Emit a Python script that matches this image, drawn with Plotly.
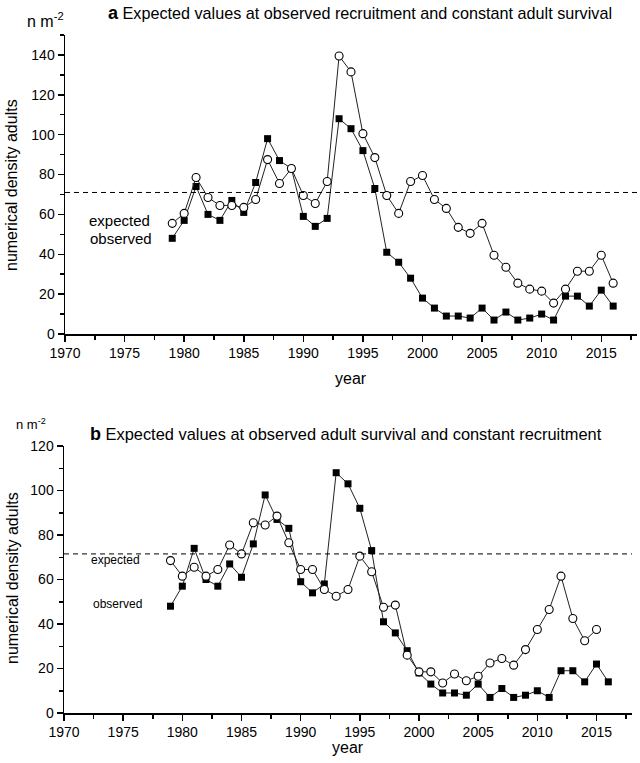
import plotly.graph_objects as go

# ---------------- data ----------------
years_obs = list(range(1979, 2017))
observed = [48, 57, 74, 60, 57, 67, 61, 76, 98, 87,
            83, 59, 54, 58, 108, 103, 92, 73, 41, 36,
            28, 18, 13, 9, 9, 8, 13, 7, 11, 7,
            8, 10, 7, 19, 19, 14, 22, 14]

years_exp_a = list(range(1979, 2017))
expected_a = [55.5, 60.5, 78.5, 68.5, 64.5, 64.5, 63.5, 67.5, 87.5, 75.5,
              83, 69.5, 65.5, 76.5, 139.5, 131.5, 100.5, 88.5, 69.5, 60.5,
              76.5, 79.5, 67.5, 63, 53.5, 50.5, 55.5, 39.5, 33.5, 25.5,
              22.5, 21.5, 15.5, 22.5, 31.5, 31.5, 39.5, 25.5]

years_exp_b = list(range(1979, 2016))
expected_b = [68.5, 61.5, 65.5, 61.5, 64.5, 75.5, 71.5, 85.5, 84.5, 88.5,
              76.5, 64.5, 64.5, 55.5, 52.5, 55.5, 70.5, 63.5, 47.5, 48.5,
              26, 18.5, 18.5, 13.5, 17.5, 14.5, 16.5, 22.5, 24.5, 21.5,
              28.5, 37.5, 46.5, 61.5, 42.5, 32.5, 37.5]

reference_a = 71
reference_b = 71.5

title_a = "Expected values at observed recruitment and constant adult survival"
title_b = "Expected values at observed adult survival and constant recruitment"

FONT = "Liberation Sans, Arial, sans-serif"
W, H = 640, 763


def px(x):
    return x / W


def py(y):
    return 1 - y / H


fig = go.Figure()

line_style = dict(color="#222222", width=1)
sq = dict(symbol="square", size=7, color="black", line=dict(width=0))
circ = dict(symbol="circle", size=8, color="white", line=dict(color="black", width=1.1))

# panel a
fig.add_trace(go.Scatter(x=years_obs, y=observed, mode="lines+markers",
                         line=line_style, marker=sq, xaxis="x", yaxis="y"))
fig.add_trace(go.Scatter(x=years_exp_a, y=expected_a, mode="lines+markers",
                         line=line_style, marker=circ, xaxis="x", yaxis="y"))
# panel b
fig.add_trace(go.Scatter(x=years_obs, y=observed, mode="lines+markers",
                         line=line_style, marker=sq, xaxis="x2", yaxis="y2"))
fig.add_trace(go.Scatter(x=years_exp_b, y=expected_b, mode="lines+markers",
                         line=line_style, marker=circ, xaxis="x2", yaxis="y2"))

axis_common = dict(showline=True, linecolor="black", linewidth=1.5,
                   ticks="outside", ticklen=6, tickwidth=1.5, tickcolor="black",
                   showgrid=False, zeroline=False, automargin=False,
                   tickfont=dict(family=FONT, size=14, color="black"))

xcommon = dict(axis_common, range=[1970, 2018], tick0=1970, dtick=5,
               minor=dict(ticks="outside", ticklen=4, tickwidth=1.5,
                          tickcolor="black", dtick=2.5, tick0=1970, showgrid=False))

fig.update_layout(
    template="none",
    width=W, height=H, autosize=False,
    margin=dict(l=0, r=0, t=0, b=0, pad=0, autoexpand=False),
    paper_bgcolor="white", plot_bgcolor="white",
    font=dict(family=FONT, color="black"),
    showlegend=False,
    xaxis=dict(xcommon, domain=[px(65), px(637)], anchor="y"),
    yaxis=dict(axis_common, domain=[py(334), py(35)], anchor="x",
               range=[0, 150], dtick=20, tick0=0,
               minor=dict(ticks="outside", ticklen=4, tickwidth=1.5,
                          tickcolor="black", dtick=10, tick0=0, showgrid=False)),
    xaxis2=dict(xcommon, domain=[px(64), px(632)], anchor="y2"),
    yaxis2=dict(axis_common, domain=[py(713), py(446)], anchor="x2",
                range=[0, 120], dtick=20, tick0=0,
                minor=dict(ticks="outside", ticklen=4, tickwidth=1.5,
                           tickcolor="black", dtick=10, tick0=0, showgrid=False)),
)

# dashed reference lines
fig.add_shape(type="line", xref="x domain", yref="y", x0=0, x1=1,
              y0=reference_a, y1=reference_a,
              line=dict(color="black", width=1, dash="5px,4px"))
fig.add_shape(type="line", xref="x2 domain", yref="y2", x0=0, x1=1,
              y0=reference_b, y1=reference_b,
              line=dict(color="black", width=1, dash="5px,4px"))

ann = []


def text(x, y, s, size=14, xanchor="center", yanchor="middle", angle=0):
    ann.append(dict(x=px(x), y=py(y), xref="paper", yref="paper", text=s,
                    showarrow=False, xanchor=xanchor, yanchor=yanchor,
                    textangle=angle, borderpad=0,
                    font=dict(family=FONT, size=size, color="black")))


# titles
text(360, 13, "<b style='font-size:18px'>a</b> " + title_a, size=16.2)
text(346, 434, "<b style='font-size:18px'>b</b> " + title_b, size=16.4)
# units
text(26, 20, "n m<sup>-2</sup>", size=16, xanchor="left")
text(15, 424, "n m<sup>-2</sup>", size=13, xanchor="left")
# axis titles
text(12, 185, "numerical density adults", size=16, angle=-90)
text(12, 578, "numerical density adults", size=16, angle=-90)
text(351, 378, "year", size=16)
text(348, 747, "year", size=16)
# series labels
text(119, 221, "expected", size=15)
text(121, 238, "observed", size=15)
text(115, 560, "expected", size=12)
text(117, 604, "observed", size=12)

fig.update_layout(annotations=ann)

fig.write_html("out.html",
               config={"displayModeBar": False, "staticPlot": True},
               post_script="document.body.style.margin='0px';"
                           "document.body.style.padding='0px';"
                           "document.body.style.overflow='hidden';")
